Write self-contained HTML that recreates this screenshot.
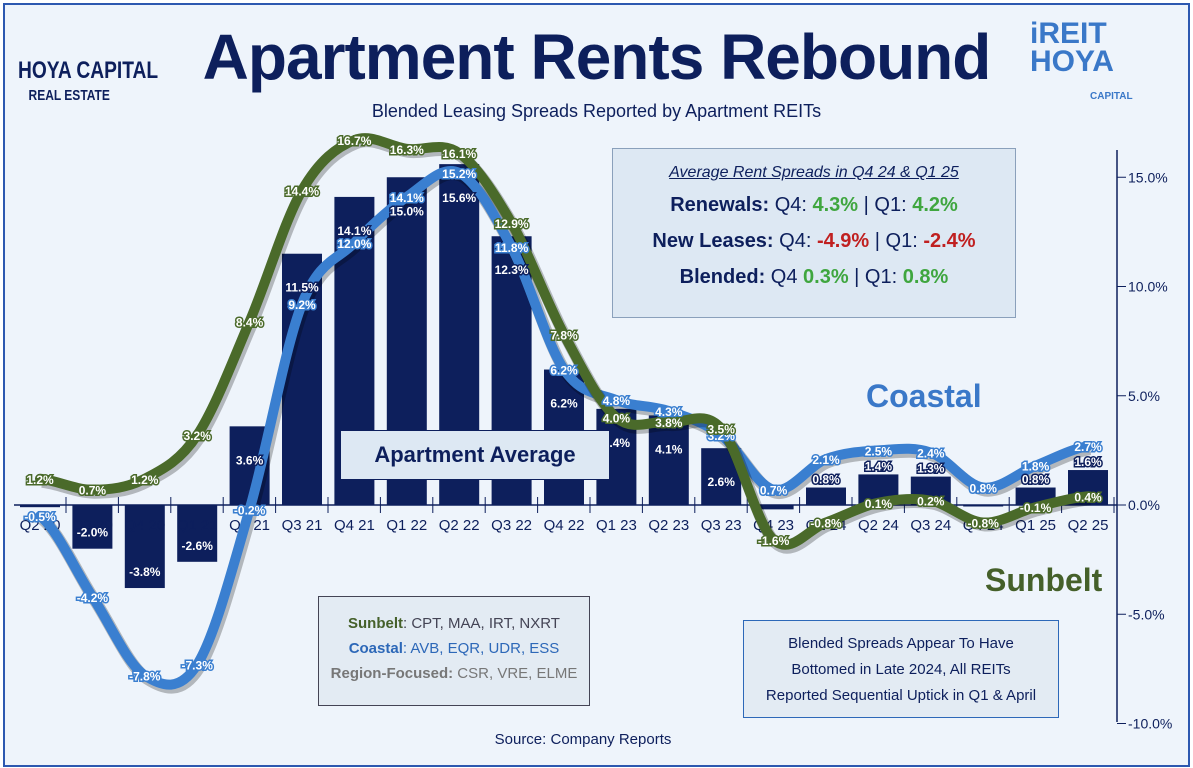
<!DOCTYPE html>
<html><head><meta charset="utf-8"><style>
body{margin:0;width:1193px;height:768px;overflow:hidden;background:#fff;font-family:"Liberation Sans",sans-serif}
#frame{position:absolute;left:3px;top:3px;width:1183px;height:760px;border:2px solid #2d58b0;background:#eef4fb}
.t{position:absolute;white-space:nowrap}
</style></head><body>
<div id="frame"></div>
<div class="t" style="left:18px;top:60px;width:128px;text-align:center;color:#0d1f5c;font-weight:bold;font-size:24px;line-height:22px;transform:scaleX(.8);transform-origin:left">HOYA CAPITAL<br><span style="font-size:15px">REAL ESTATE</span></div>
<div class="t" style="left:0;width:1193px;top:20px;text-align:center;color:#0d1f5c;font-weight:bold;font-size:64px;letter-spacing:-1px">Apartment Rents Rebound</div>
<div class="t" style="left:0;width:1193px;top:101px;text-align:center;color:#0d1f5c;font-size:18px">Blended Leasing Spreads Reported by Apartment REITs</div>
<div class="t" style="left:1030px;top:20px;color:#3a78c8;font-weight:bold;font-size:30px;line-height:28px">iREIT<br>HOYA<br><span style="font-size:10px;margin-left:60px">CAPITAL</span></div>
<svg id="c" width="1193" height="768" style="position:absolute;left:0;top:0"></svg>
<div class="t" style="left:612px;top:148px;width:404px;height:170px;background:#dde8f3;border:1px solid #8aa0bb;text-align:center;color:#0d1f5c;font-size:20px;line-height:36px;padding-top:10px;box-sizing:border-box">
<div style="font-style:italic;text-decoration:underline;font-size:16px;line-height:28px">Average Rent Spreads in Q4 24 &amp; Q1 25</div>
<div><b>Renewals:</b> Q4: <b style="color:#3fa63f">4.3%</b> | Q1: <b style="color:#3fa63f">4.2%</b></div>
<div><b>New Leases:</b> Q4: <b style="color:#c02020">-4.9%</b> | Q1: <b style="color:#c02020">-2.4%</b></div>
<div><b>Blended:</b> Q4 <b style="color:#3fa63f">0.3%</b> | Q1: <b style="color:#3fa63f">0.8%</b></div></div>
<div class="t" style="left:340px;top:430px;width:268px;height:48px;line-height:48px;background:#dde8f3;border:1px solid #0d1f5c;text-align:center;color:#0d1f5c;font-weight:bold;font-size:22px">Apartment Average</div>
<div class="t" style="left:866px;top:378px;color:#3a78c8;font-weight:bold;font-size:32px">Coastal</div>
<div class="t" style="left:985px;top:562px;color:#45602a;font-weight:bold;font-size:32px">Sunbelt</div>
<div class="t" style="left:318px;top:596px;width:272px;height:110px;background:#e3ebf3;border:1px solid #445;text-align:center;font-size:15px;line-height:25px;padding-top:14px;box-sizing:border-box;color:#445">
<div><b style="color:#45602a">Sunbelt</b>: CPT, MAA, IRT, NXRT</div>
<div style="color:#2d68b8"><b>Coastal</b>: AVB, EQR, UDR, ESS</div>
<div style="color:#777"><b>Region-Focused:</b> CSR, VRE, ELME</div></div>
<div class="t" style="left:743px;top:620px;width:316px;height:98px;background:#e3ebf3;border:1px solid #2d68b8;text-align:center;font-size:15px;line-height:26px;padding-top:10px;box-sizing:border-box;color:#0d1f5c">Blended Spreads Appear To Have<br>Bottomed in Late 2024, All REITs<br>Reported Sequential Uptick in Q1 &amp; April</div>
<div class="t" style="left:0;width:1166px;top:731px;text-align:center;font-size:15px;color:#0d1f5c">Source: Company Reports</div>
<script>
const categories=["Q2 20","Q3 20","Q4 20","Q1 21","Q2 21","Q3 21","Q4 21","Q1 22","Q2 22","Q3 22","Q4 22","Q1 23","Q2 23","Q3 23","Q4 23","Q1 24","Q2 24","Q3 24","Q4 24","Q1 25","Q2 25"];
const averageValues=[-0.1,-2.0,-3.8,-2.6,3.6,11.5,14.1,15.0,15.6,12.3,6.2,4.4,4.1,2.6,-0.2,0.8,1.4,1.3,0.0,0.8,1.6];
const coastalValues=[-0.5,-4.2,-7.8,-7.3,-0.2,9.2,12.0,14.1,15.2,11.8,6.2,4.8,4.3,3.2,0.7,2.1,2.5,2.4,0.8,1.8,2.7];
const sunbeltValues=[1.2,0.7,1.2,3.2,8.4,14.4,16.7,16.3,16.1,12.9,7.8,4.0,3.8,3.5,-1.6,-0.8,0.1,0.2,-0.8,-0.1,0.4];
const yTicks=[15,10,5,0,-5,-10];
const svg=document.getElementById('c');const NS='http://www.w3.org/2000/svg';
const x=i=>40+i*52.4, y=v=>505-v*21.85;
function mk(t,a,p){const e=document.createElementNS(NS,t);for(const k in a)e.setAttribute(k,a[k]);(p||svg).appendChild(e);return e;}
const ax=mk('line',{x1:1117,y1:150,x2:1117,y2:722,stroke:'#0d1f5c','stroke-width':1.5});


yTicks.forEach(v=>{
 mk('line',{x1:1117,x2:1126,y1:y(v),y2:y(v),stroke:'#0d1f5c'});
 const t=mk('text',{x:1128,y:y(v)+5,'font-size':14,fill:'#0d1f5c','font-family':'Liberation Sans'});t.textContent=v.toFixed(1)+'%';
 
 
});
averageValues.forEach((v,i)=>{
 const r=mk('rect',{x:x(i)-20,width:40,y:Math.min(y(v),y(0)),height:Math.max(1.5,Math.abs(y(v)-y(0))),fill:'#0d1f5c'});
 
 
});
mk('line',{x1:14,x2:1117,y1:y(0),y2:y(0),stroke:'#0d1f5c','stroke-width':1.5});
categories.forEach((c,i)=>{
 mk('line',{x1:x(i)+26,x2:x(i)+26,y1:y(0)-8,y2:y(0)+8,stroke:'#0d1f5c'});
 const t=mk('text',{x:x(i),y:y(0)+25,'font-size':15,fill:'#0d1f5c','text-anchor':'middle','font-family':'Liberation Sans'});t.textContent=c;
 
 
});
function path(vals){let d='M'+x(0)+','+y(vals[0]);for(let i=0;i<vals.length-1;i++){const p0=vals[Math.max(0,i-1)],p1=vals[i],p2=vals[i+1],p3=vals[Math.min(vals.length-1,i+2)];
 const c1x=x(i)+52.4/3,c1y=y(p1)+(y(p2)-y(p0))/6,c2x=x(i+1)-52.4/3,c2y=y(p2)-(y(p3)-y(p1))/6;
 d+=` C${c1x},${c1y} ${c2x},${c2y} ${x(i+1)},${y(p2)}`;}return d;}
function series(vals,col,name){
 mk('path',{d:path(vals),fill:'none',stroke:'rgba(0,0,0,0.25)','stroke-width':12,transform:'translate(2,3)'});
 const p=mk('path',{d:path(vals),fill:'none',stroke:col,'stroke-width':10,'stroke-linecap':'round'});
 
 
}
series(coastalValues,'#3a7fd0','coastal');
series(sunbeltValues,'#4a6a2a','sunbelt');
function lbl(v,i,col,yy,name){const t=mk('text',{x:x(i),y:yy,'font-size':12,'font-weight':'bold',fill:'#fff',stroke:col,'stroke-width':3,'paint-order':'stroke','text-anchor':'middle','font-family':'Liberation Sans'});t.textContent=v.toFixed(1)+'%';
 
 }
averageValues.forEach((v,i)=>{if(Math.abs(v)>=0.5){const yy=v>0?(y(0)-y(v)>40?y(v)+38:y(v)-4):y(v)-12;lbl(v,i,'#0d1f5c',yy,'average');}});
coastalValues.forEach((v,i)=>lbl(v,i,'#3a7fd0',y(v)+5,'coastal'));
sunbeltValues.forEach((v,i)=>lbl(v,i,'#4a6a2a',y(v)+5,'sunbelt'));
</script>
</body></html>
